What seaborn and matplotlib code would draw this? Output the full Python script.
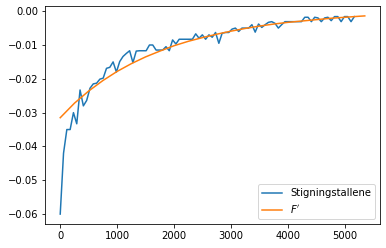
import numpy as np
import pandas as pd
import matplotlib
matplotlib.use("Agg")
import matplotlib.pyplot as plt
import seaborn as sns

# Blue series: slopes (step 58 along x)
blue_x = [0, 58, 116, 174, 232, 290, 348, 406, 464, 522,
          580, 638, 696, 754, 812, 870, 928, 986, 1044, 1102,
          1160, 1218, 1276, 1334, 1392, 1450, 1508, 1566, 1624, 1682,
          1740, 1798, 1856, 1914, 1972, 2030, 2088, 2146, 2204, 2262,
          2320, 2378, 2436, 2494, 2552, 2610, 2668, 2726, 2784, 2842,
          2900, 2958, 3016, 3074, 3132, 3190, 3248, 3306, 3364, 3422,
          3480, 3538, 3596, 3654, 3712, 3770, 3828, 3886, 3944, 4002,
          4060, 4118, 4176, 4234, 4292, 4350, 4408, 4466, 4524, 4582,
          4640, 4698, 4756, 4814, 4872, 4930, 4988, 5046, 5104, 5162]
blue_y = [-0.0600, -0.0420, -0.0350, -0.0350, -0.0300, -0.0333, -0.0233, -0.0280, -0.0264, -0.0228,
          -0.0215, -0.0213, -0.0201, -0.0198, -0.0169, -0.0166, -0.0150, -0.0180, -0.0149, -0.0134,
          -0.0125, -0.0117, -0.0152, -0.0118, -0.0117, -0.0117, -0.0117, -0.0100, -0.0100, -0.0115,
          -0.0115, -0.0115, -0.0105, -0.0117, -0.0085, -0.0097, -0.0083, -0.0083, -0.0083, -0.0083,
          -0.0083, -0.0067, -0.0080, -0.0070, -0.0083, -0.0070, -0.0077, -0.0063, -0.0095, -0.0065,
          -0.0063, -0.0063, -0.0053, -0.0050, -0.0060, -0.0050, -0.0050, -0.0050, -0.0040, -0.0062,
          -0.0038, -0.0048, -0.0040, -0.0033, -0.0031, -0.0036, -0.0050, -0.0040, -0.0031, -0.0031,
          -0.0031, -0.0031, -0.0031, -0.0031, -0.0018, -0.0018, -0.0031, -0.0018, -0.0020, -0.0031,
          -0.0020, -0.0018, -0.0028, -0.0016, -0.0016, -0.0031, -0.0016, -0.0016, -0.0031, -0.0016]

# Orange series: F'
orange_x = [0, 250, 500, 750, 1000, 1250, 1500, 1750, 2000, 2250, 2500, 2750,
            3000, 3250, 3500, 3750, 4000, 4250, 4500, 4750, 5000, 5250, 5345]
orange_y = [-0.0315, -0.0272, -0.0236, -0.0205, -0.0178, -0.0155, -0.0135, -0.0118,
            -0.0102, -0.0089, -0.0078, -0.0068, -0.0059, -0.0051, -0.0044, -0.0038,
            -0.0033, -0.0029, -0.0025, -0.0021, -0.0018, -0.0015, -0.0014]

labels = ["Stigningstallene", "$F'$"]

DPI = 72
fig = plt.figure(figsize=(386 / DPI, 248 / DPI), dpi=DPI)
ax = fig.add_axes([45 / 386, 24 / 248, 335 / 386, 218 / 248])

df_b = pd.DataFrame({"x": blue_x, "y": blue_y})
df_o = pd.DataFrame({"x": orange_x, "y": orange_y})
sns.lineplot(data=df_b, x="x", y="y", ax=ax, color="#1f77b4", label=labels[0], linewidth=1.5)
sns.lineplot(data=df_o, x="x", y="y", ax=ax, color="#ff7f0e", label=labels[1], linewidth=1.5)

ax.set_xlabel("")
ax.set_ylabel("")
ax.set_xticks([0, 1000, 2000, 3000, 4000, 5000])
ax.set_yticks([0.00, -0.01, -0.02, -0.03, -0.04, -0.05, -0.06])
ax.legend(loc="lower right")

fig.savefig("out.png", dpi=DPI)
